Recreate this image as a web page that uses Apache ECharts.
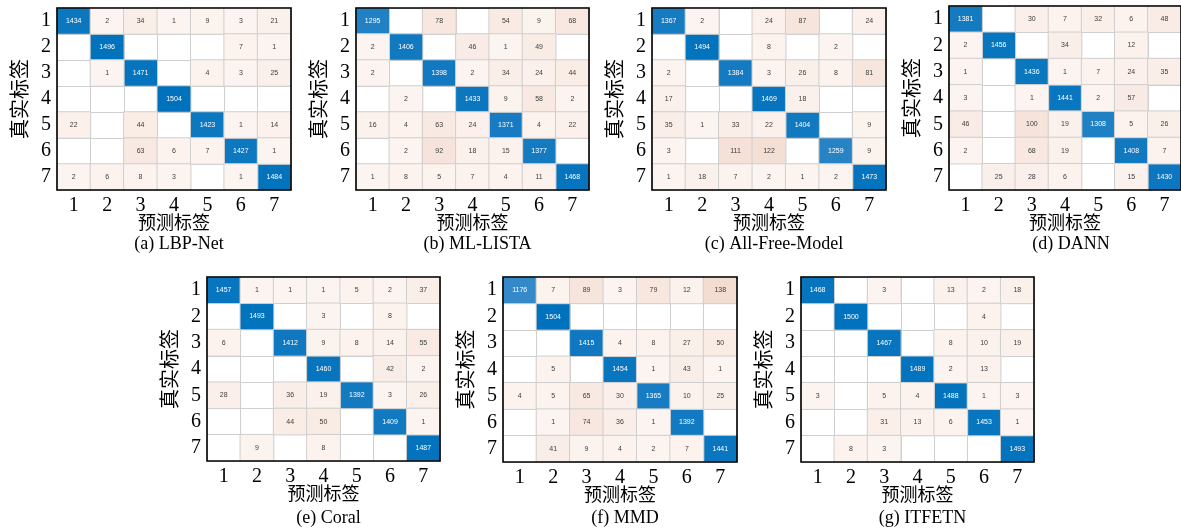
<!DOCTYPE html>
<html lang="zh">
<head>
<meta charset="utf-8">
<title>Confusion matrices</title>
<script src="https://cdn.jsdelivr.net/npm/echarts@6/dist/echarts.min.js"></script>
<style>
  html, body { margin: 0; padding: 0; background: #fff; }
  #chart { width: 1181px; height: 528px; }
</style>
</head>
<body>
<div id="chart"></div>
<script>
// class labels (true label rows, predicted label columns)
var labels = ['1', '2', '3', '4', '5', '6', '7'];
var captions = ['(a) LBP-Net', '(b) ML-LISTA', '(c) All-Free-Model', '(d) DANN', '(e) Coral', '(f) MMD', '(g) ITFETN'];

// rows = true label 1..7, cols = predicted label 1..7, 0 = empty cell
var lbpNet = [
  [1434, 2, 34, 1, 9, 3, 21],
  [0, 1496, 0, 0, 0, 7, 1],
  [0, 1, 1471, 0, 4, 3, 25],
  [0, 0, 0, 1504, 0, 0, 0],
  [22, 0, 44, 0, 1423, 1, 14],
  [0, 0, 63, 6, 7, 1427, 1],
  [2, 6, 8, 3, 0, 1, 1484]
];
var mlLista = [
  [1295, 0, 78, 0, 54, 9, 68],
  [2, 1406, 0, 46, 1, 49, 0],
  [2, 0, 1398, 2, 34, 24, 44],
  [0, 2, 0, 1433, 9, 58, 2],
  [16, 4, 63, 24, 1371, 4, 22],
  [0, 2, 92, 18, 15, 1377, 0],
  [1, 8, 5, 7, 4, 11, 1468]
];
var allFree = [
  [1367, 2, 0, 24, 87, 0, 24],
  [0, 1494, 0, 8, 0, 2, 0],
  [2, 0, 1384, 3, 26, 8, 81],
  [17, 0, 0, 1469, 18, 0, 0],
  [35, 1, 33, 22, 1404, 0, 9],
  [3, 0, 111, 122, 0, 1259, 9],
  [1, 18, 7, 2, 1, 2, 1473]
];
var dann = [
  [1381, 0, 30, 7, 32, 6, 48],
  [2, 1456, 0, 34, 0, 12, 0],
  [1, 0, 1436, 1, 7, 24, 35],
  [3, 0, 1, 1441, 2, 57, 0],
  [46, 0, 100, 19, 1308, 5, 26],
  [2, 0, 68, 19, 0, 1408, 7],
  [0, 25, 28, 6, 0, 15, 1430]
];
var coral = [
  [1457, 1, 1, 1, 5, 2, 37],
  [0, 1493, 0, 3, 0, 8, 0],
  [6, 0, 1412, 9, 8, 14, 55],
  [0, 0, 0, 1460, 0, 42, 2],
  [28, 0, 36, 19, 1392, 3, 26],
  [0, 0, 44, 50, 0, 1409, 1],
  [0, 9, 0, 8, 0, 0, 1487]
];
var mmd = [
  [1176, 7, 89, 3, 79, 12, 138],
  [0, 1504, 0, 0, 0, 0, 0],
  [0, 0, 1415, 4, 8, 27, 50],
  [0, 5, 0, 1454, 1, 43, 1],
  [4, 5, 65, 30, 1365, 10, 25],
  [0, 1, 74, 36, 1, 1392, 0],
  [0, 41, 9, 4, 2, 7, 1441]
];
var itfetn = [
  [1468, 0, 3, 0, 13, 2, 18],
  [0, 1500, 0, 0, 0, 4, 0],
  [0, 0, 1467, 0, 8, 10, 19],
  [0, 0, 0, 1489, 2, 13, 0],
  [3, 0, 5, 4, 1488, 1, 3],
  [0, 0, 31, 13, 6, 1453, 1],
  [0, 8, 3, 0, 0, 0, 1493]
];

var matrices = [lbpNet, mlLista, allFree, dann, coral, mmd, itfetn];

// panel boxes: left, top, width, height
var boxes = [
  [57, 8, 234, 182],
  [356, 8, 233, 182],
  [652, 8, 234, 182],
  [949, 6, 234, 184],
  [207, 277, 233, 184],
  [503, 277, 234, 185],
  [801, 277, 233, 185]
];

var serif = 'Liberation Serif';
var cjk = 'Noto Sans CJK SC';

var grid = [], xAxis = [], yAxis = [], series = [], title = [];
var diagIdx = [], offIdx = [];

matrices.forEach(function (m, k) {
  var b = boxes[k];
  grid.push({
    left: b[0], top: b[1], width: b[2], height: b[3],
    show: true, borderColor: '#000', borderWidth: 1.6,
    backgroundColor: 'transparent', z: 5
  });
  xAxis.push({
    gridIndex: k, type: 'category', data: labels,
    axisTick: { show: false }, axisLine: { show: false },
    splitLine: { show: true, interval: 0, lineStyle: { color: '#cfcfcf', width: 1 } },
    axisLabel: { interval: 0, fontFamily: serif, fontSize: 20, color: '#000', margin: 6 },
    name: '预测标签', nameLocation: 'middle', nameGap: 23, nameMoveOverlap: false,
    nameTextStyle: { fontFamily: cjk, fontSize: 18, color: '#000' }
  });
  yAxis.push({
    gridIndex: k, type: 'category', data: labels, inverse: true,
    axisTick: { show: false }, axisLine: { show: false },
    splitLine: { show: true, interval: 0, lineStyle: { color: '#cfcfcf', width: 1 } },
    axisLabel: { interval: 0, fontFamily: serif, fontSize: 20, color: '#000', margin: 6 },
    name: '真实标签', nameLocation: 'middle', nameGap: 28, nameRotate: 90, nameMoveOverlap: false,
    nameTextStyle: { fontFamily: cjk, fontSize: 20, color: '#000' }
  });
  title.push({
    text: captions[k], left: b[0] + b[2] / 2, textAlign: 'center',
    top: k < 4 ? 230 : 504,
    textStyle: { fontFamily: serif, fontSize: 18, fontWeight: 'normal', color: '#000' }
  });

  var diag = [], off = [];
  for (var r = 0; r < 7; r++) {
    for (var c = 0; c < 7; c++) {
      var v = m[r][c];
      if (!v) continue;
      if (r === c) diag.push([c, r, v]);
      else off.push([c, r, v]);
    }
  }
  diagIdx.push(series.length);
  series.push({
    type: 'heatmap', xAxisIndex: k, yAxisIndex: k, data: diag,
    label: { show: true, color: '#fff', fontSize: 7, fontFamily: 'Liberation Sans' },
    itemStyle: { borderColor: '#cfcfcf', borderWidth: 1 },
    emphasis: { disabled: true }
  });
  offIdx.push(series.length);
  series.push({
    type: 'heatmap', xAxisIndex: k, yAxisIndex: k, data: off,
    label: { show: true, color: '#404040', fontSize: 7, fontFamily: 'Liberation Sans' },
    itemStyle: { borderColor: '#cfcfcf', borderWidth: 1 },
    emphasis: { disabled: true }
  });
});

var option = {
  animation: false,
  title: title,
  grid: grid,
  xAxis: xAxis,
  yAxis: yAxis,
  visualMap: [
    {
      type: 'continuous', show: false, seriesIndex: diagIdx, dimension: 2,
      min: 1150, max: 1504, inRange: { color: ['#3a8bc9', '#0072bd'] }
    },
    {
      type: 'continuous', show: false, seriesIndex: offIdx, dimension: 2,
      min: 1, max: 140, inRange: { color: ['#fcf4f0', '#f3dcd1'] }
    }
  ],
  series: series
};

var myChart = echarts.init(document.getElementById('chart'));
myChart.setOption(option);
</script>
</body>
</html>
